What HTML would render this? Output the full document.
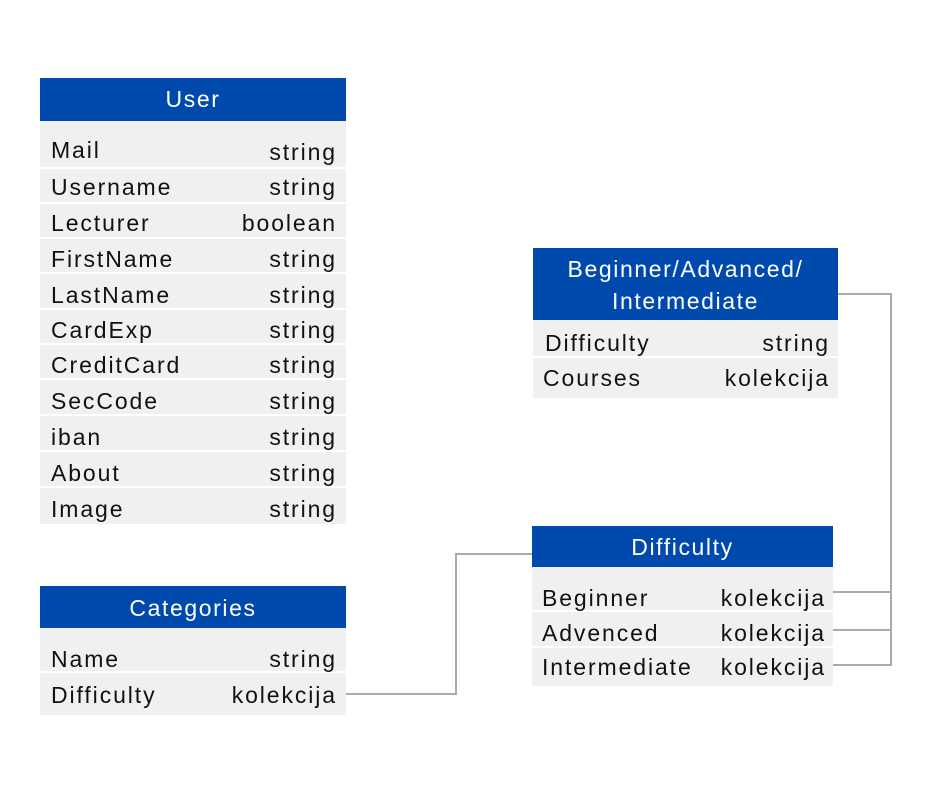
<!DOCTYPE html>
<html><head><meta charset="utf-8"><style>
body{margin:0;width:940px;height:788px;background:#fff;position:relative;overflow:hidden;font-family:"Liberation Sans",sans-serif;}
.h{position:absolute;background:#004aad;color:#fff;font-size:23px;text-align:center;letter-spacing:1.6px;}
.r{position:absolute;background:#f0f0f0;}
.t{position:absolute;font-size:23px;color:#111;letter-spacing:1.9px;line-height:26px;white-space:nowrap;}
.l{position:absolute;background:#aaa;}
</style></head><body>
<!-- User -->
<div class="h" style="left:40px;top:78px;width:306px;height:43px;line-height:43px;">User</div>
<div class="r" style="left:40px;top:121px;width:306px;height:46px"></div>
<div class="r" style="left:40px;top:169px;width:306px;height:33px"></div>
<div class="r" style="left:40px;top:204px;width:306px;height:33px"></div>
<div class="r" style="left:40px;top:239px;width:306px;height:33px"></div>
<div class="r" style="left:40px;top:274px;width:306px;height:34px"></div>
<div class="r" style="left:40px;top:310px;width:306px;height:33px"></div>
<div class="r" style="left:40px;top:345px;width:306px;height:33px"></div>
<div class="r" style="left:40px;top:380px;width:306px;height:34px"></div>
<div class="r" style="left:40px;top:416px;width:306px;height:34px"></div>
<div class="r" style="left:40px;top:452px;width:306px;height:34px"></div>
<div class="r" style="left:40px;top:488px;width:306px;height:36px"></div>
<div class="t" style="left:51px;top:137px">Mail</div><div class="t" style="right:603px;top:139px">string</div>
<div class="t" style="left:51px;top:174px">Username</div><div class="t" style="right:603px;top:174px">string</div>
<div class="t" style="left:51px;top:210px">Lecturer</div><div class="t" style="right:603px;top:210px">boolean</div>
<div class="t" style="left:51px;top:246px">FirstName</div><div class="t" style="right:603px;top:246px">string</div>
<div class="t" style="left:51px;top:282px">LastName</div><div class="t" style="right:603px;top:282px">string</div>
<div class="t" style="left:51px;top:317px">CardExp</div><div class="t" style="right:603px;top:317px">string</div>
<div class="t" style="left:51px;top:352px">CreditCard</div><div class="t" style="right:603px;top:352px">string</div>
<div class="t" style="left:51px;top:388px">SecCode</div><div class="t" style="right:603px;top:388px">string</div>
<div class="t" style="left:51px;top:424px">iban</div><div class="t" style="right:603px;top:424px">string</div>
<div class="t" style="left:51px;top:460px">About</div><div class="t" style="right:603px;top:460px">string</div>
<div class="t" style="left:51px;top:496px">Image</div><div class="t" style="right:603px;top:496px">string</div>
<!-- Categories -->
<div class="h" style="left:40px;top:586px;width:306px;height:42px;line-height:44px;">Categories</div>
<div class="r" style="left:40px;top:628px;width:306px;height:43px"></div>
<div class="r" style="left:40px;top:673px;width:306px;height:42px"></div>
<div class="t" style="left:51px;top:646px">Name</div><div class="t" style="right:603px;top:646px">string</div>
<div class="t" style="left:51px;top:682px">Difficulty</div><div class="t" style="right:603px;top:682px">kolekcija</div>
<!-- Beginner/Advanced -->
<div class="h" style="left:533px;top:248px;width:305px;height:72px;line-height:32px;padding-top:5px;box-sizing:border-box;">Beginner/Advanced/<br>Intermediate</div>
<div class="r" style="left:533px;top:320px;width:305px;height:36px"></div>
<div class="r" style="left:533px;top:358px;width:305px;height:40px"></div>
<div class="t" style="left:545px;top:330px">Difficulty</div><div class="t" style="right:110px;top:330px">string</div>
<div class="t" style="left:543px;top:365px">Courses</div><div class="t" style="right:110px;top:365px">kolekcija</div>
<!-- Difficulty -->
<div class="h" style="left:532px;top:526px;width:301px;height:41px;line-height:43px;">Difficulty</div>
<div class="r" style="left:532px;top:567px;width:301px;height:43px"></div>
<div class="r" style="left:532px;top:612px;width:301px;height:34px"></div>
<div class="r" style="left:532px;top:648px;width:301px;height:38px"></div>
<div class="t" style="left:542px;top:585px">Beginner</div><div class="t" style="right:114px;top:585px">kolekcija</div>
<div class="t" style="left:542px;top:620px">Advenced</div><div class="t" style="right:114px;top:620px">kolekcija</div>
<div class="t" style="left:542px;top:654px">Intermediate</div><div class="t" style="right:114px;top:654px">kolekcija</div>
<!-- connectors -->
<div class="l" style="left:346px;top:693px;width:111px;height:2px"></div>
<div class="l" style="left:455px;top:553px;width:2px;height:142px"></div>
<div class="l" style="left:455px;top:553px;width:77px;height:2px"></div>
<div class="l" style="left:838px;top:293px;width:54px;height:2px"></div>
<div class="l" style="left:890px;top:293px;width:2px;height:373px"></div>
<div class="l" style="left:833px;top:591px;width:59px;height:2px"></div>
<div class="l" style="left:833px;top:629px;width:59px;height:2px"></div>
<div class="l" style="left:833px;top:664px;width:59px;height:2px"></div>
</body></html>
